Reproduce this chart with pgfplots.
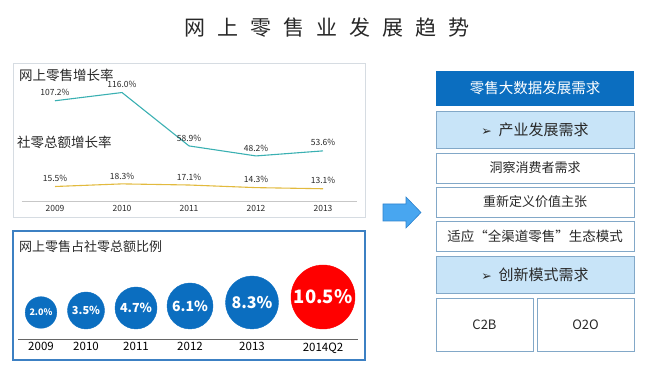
\documentclass[border=0pt]{standalone}
\usepackage{pgfplots}
\usepackage{pgfplotstable}
\pgfplotsset{compat=1.18}
\usepackage{fontspec}
\setmainfont{Noto Sans CJK SC}
\newfontfamily\dejavu{DejaVu Sans}
\definecolor{teal1}{RGB}{58,176,178}
\definecolor{gold1}{RGB}{226,186,62}
\definecolor{bblue}{RGB}{11,110,192}
\definecolor{bred}{RGB}{255,0,0}
\definecolor{lightb}{RGB}{200,228,248}
\definecolor{boxborder}{RGB}{130,168,200}
\definecolor{panelborder}{RGB}{60,128,195}
\definecolor{panelgray}{RGB}{214,220,226}
\definecolor{arrowfill}{RGB}{72,166,240}
\definecolor{arrowdraw}{RGB}{45,130,205}
\definecolor{txt}{RGB}{40,40,40}
\newcommand{\fs}[1]{\fontsize{#1}{#1}\selectfont}

\pgfplotstableread{
x online social
2009 107.2 15.5
2010 116.0 18.3
2011 58.9 17.1
2012 48.2 14.3
2013 53.6 13.1
}\growth

\pgfplotsset{
  bubble/.style n args={3}{
    only marks, mark=*, color=#1, mark size=#2pt,
    point meta=explicit,
    nodes near coords={\pgfmathprintnumber[fixed,fixed zerofill,precision=1]{\pgfplotspointmeta}\%},
    every node near coord/.append style={anchor=center, text=white, font=\fs{#3}\bfseries},
  },
}

\begin{document}
\begin{tikzpicture}[x=1pt,y=1pt]
\path[use as bounding box] (0,0) rectangle (650,382);

% title
\node[text=txt, font=\fs{21}] at (327,354) {网\hspace{12pt}上\hspace{12pt}零\hspace{12pt}售\hspace{12pt}业\hspace{12pt}发\hspace{12pt}展\hspace{12pt}趋\hspace{12pt}势};

% top panel
\draw[panelgray, line width=0.8pt] (13,165) rectangle (365,319);
\node[anchor=west, text=txt, font=\fs{13.5}, inner sep=0] at (19,307) {网上零售增长率};
\node[anchor=west, text=txt, font=\fs{13.5}, inner sep=0] at (17,240) {社零总额增长率};

\begin{axis}[at={(21.5pt,181pt)}, anchor=south west, scale only axis,
  width=335pt, height=140.25pt, xmin=2008.5, xmax=2013.5, ymin=0, ymax=150,
  axis x line=bottom, axis y line=none,
  x axis line style={-, draw=black!22, line width=0.9pt},
  xtick={2009,2010,2011,2012,2013}, xticklabels={2009,2010,2011,2012,2013},
  major tick length=0pt,
  xticklabel style={font=\fs{8.5}, text=txt, yshift=-1pt},
  clip=false,
  nodes near coords={\pgfmathprintnumber[fixed,fixed zerofill,precision=1]{\pgfplotspointmeta}\%},
  every node near coord/.append style={anchor=center, yshift=8pt, font=\fs{8.5}, text=txt},
  /pgf/number format/assume math mode=true]
\addplot[teal1, line width=1.1pt, mark=none, point meta=y] table[x=x,y=online]{\growth};
\addplot[gold1, line width=1.1pt, mark=none, point meta=y] table[x=x,y=social]{\growth};
\end{axis}

% bubble panel
\draw[panelborder, line width=1.3pt] (13,22) rectangle (365,151);
\node[anchor=west, text=txt, font=\fs{13}, inner sep=0] at (19,135) {网上零售占社零总额比例};

\begin{axis}[at={(18pt,42pt)}, anchor=south west, scale only axis,
  width=340pt, height=109pt, xmin=18, xmax=358, ymin=42, ymax=151,
  axis x line=bottom, axis y line=none,
  x axis line style={-, draw=black!60, line width=1pt},
  xtick={41,86,136,190,252,323}, xticklabels={2009,2010,2011,2012,2013,2014Q2},
  major tick length=0pt,
  xticklabel style={font=\fs{11.5}, text=black, yshift=1pt},
  clip=false,
  /pgf/number format/assume math mode=true]
\addplot[bubble={bblue}{15.8}{9}] coordinates {(41,69.5) [2.0]};
\addplot[bubble={bblue}{18.5}{11}] coordinates {(86,71.5) [3.5]};
\addplot[bubble={bblue}{21}{12.5}] coordinates {(136,74) [4.7]};
\addplot[bubble={bblue}{23}{14}] coordinates {(190,76) [6.1]};
\addplot[bubble={bblue}{26.5}{16}] coordinates {(252,79.5) [8.3]};
\addplot[bubble={bred}{32}{18.5}] coordinates {(323,85) [10.5]};
\end{axis}

% arrow
\draw[arrowdraw, fill=arrowfill, line width=0.6pt] (383,178) -- (406,178) -- (406,185) -- (421,169.5) -- (406,154) -- (406,161) -- (383,161) -- cycle;

% right boxes
\fill[bblue] (436,276) rectangle (634,311);
\node[text=white, font=\fs{14.5}] at (535,293.5) {零售大数据发展需求};

\draw[boxborder, fill=lightb, line width=0.8pt] (436,234) rectangle (634,271);
\node[text=txt, font=\fs{15}] at (535,252.5) {{\dejavu\fs{12.5}➢}\hspace{7pt}产业发展需求};

\draw[boxborder, line width=0.8pt] (436,199) rectangle (634,229);
\node[text=txt, font=\fs{13}] at (535,214) {洞察消费者需求};

\draw[boxborder, line width=0.8pt] (436,165) rectangle (634,195);
\node[text=txt, font=\fs{13}] at (535,180) {重新定义价值主张};

\draw[boxborder, line width=0.8pt] (436,131) rectangle (634,161);
\node[text=txt, font=\fs{13.5}] at (535,146) {适应“全渠道零售”生态模式};

\draw[boxborder, fill=lightb, line width=0.8pt] (436,89) rectangle (634,126);
\node[text=txt, font=\fs{15}] at (535,107.5) {{\dejavu\fs{12.5}➢}\hspace{7pt}创新模式需求};

\draw[boxborder, line width=0.8pt] (436,31) rectangle (533,84);
\node[text=txt, font=\fs{13}] at (484.5,57.5) {C2B};
\draw[boxborder, line width=0.8pt] (537,31) rectangle (634,84);
\node[text=txt, font=\fs{13}] at (585.5,57.5) {O2O};
\end{tikzpicture}
\end{document}
